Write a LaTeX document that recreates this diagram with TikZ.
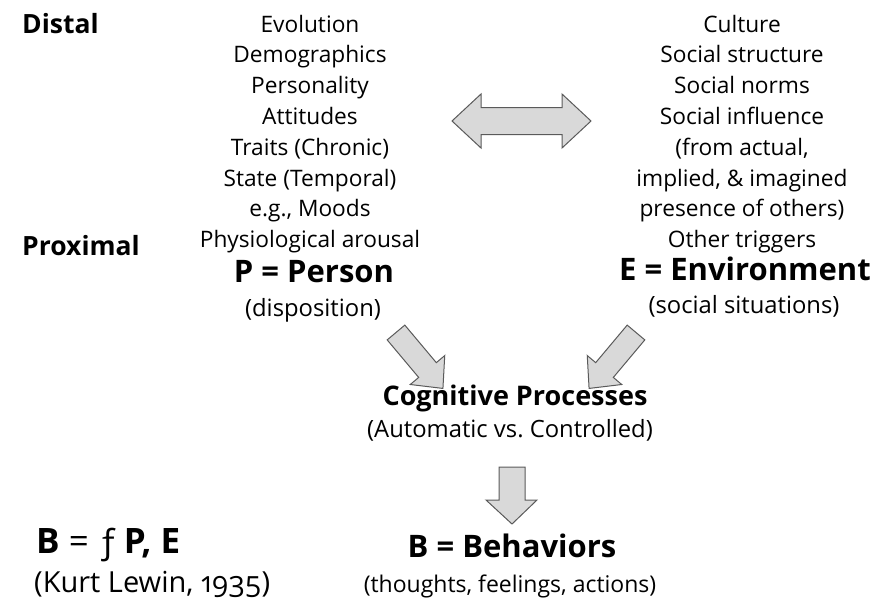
\documentclass[tikz,border=0pt]{standalone}
\usepackage{fontspec}
\setmainfont{Open Sans}
\newfontfamily\oldnum{Open Sans}[Numbers=OldStyle]
\definecolor{arrowfill}{HTML}{D9D9D9}
\definecolor{arrowline}{HTML}{5A5A5A}
\begin{document}
\begin{tikzpicture}[x=1pt,y=-1pt,
  listtxt/.style={anchor=base, inner sep=0pt, font=\fontsize{22.7}{26}\selectfont},
  subtxt/.style={anchor=base, inner sep=0pt, font=\fontsize{23.8}{28}\selectfont},
  headtxt/.style={anchor=base, inner sep=0pt, font=\fontsize{31}{36}\selectfont\bfseries},
  sidetxt/.style={anchor=base west, inner sep=0pt, font=\fontsize{26.5}{30}\selectfont\bfseries},
  blockarrow/.style={fill=arrowfill, draw=arrowline, line width=1pt, line join=miter}]
\useasboundingbox (0,0) rectangle (892,598);

% distal / proximal scale labels
\node[sidetxt] (distal) at (22,33) {Distal};
\node[sidetxt] (proximal) at (22,255) {Proximal};

% person factors
\foreach \t [count=\i from 0] in {Evolution, Demographics, Personality, Attitudes,
    Traits (Chronic), State (Temporal), {e.g., Moods}, Physiological arousal}
  \node[listtxt] (P\i) at (310,{32+30.8*\i}) {\t};

% environment factors
\foreach \t [count=\i from 0] in {Culture, Social structure, Social norms, Social influence,
    {(from actual,}, {implied, \& imagined}, presence of others), Other triggers}
  \node[listtxt] (E\i) at (742,{32+30.8*\i}) {\t};

% main terms
\node[headtxt] (person) at (314,282) {P = Person};
\node[subtxt] (disp) at (313,316) {(disposition)};
\node[headtxt] (env) at (745,280) {E = Environment};
\node[subtxt] (sit) at (744,313) {(social situations)};

\node[headtxt, font=\fontsize{27}{32}\selectfont\bfseries] (cog) at (515,405) {Cognitive Processes};
\node[subtxt] (auto) at (510,437) {(Automatic vs.\ Controlled)};

\node[headtxt] (beh) at (512,557) {B = Behaviors};
\node[subtxt, font=\fontsize{23}{27}\selectfont] (tfa) at (510,592) {(thoughts, feelings, actions)};

% Lewin's equation
\node[anchor=base west, inner sep=0pt, font=\fontsize{35}{40}\selectfont] (eq) at (36,553)
  {\textbf{B} = ƒ\,\textbf{P, E}};
\node[anchor=base west, inner sep=0pt, font=\fontsize{29}{34}\selectfont] (lewin) at (34,592)
  {(Kurt Lewin, {\oldnum 1935})};

% person <-> environment interaction
\draw[blockarrow] (452,121)--(481,94)--(481,107.5)--(562,107.5)--(562,94)--(591,121)
  --(562,148)--(562,134.5)--(481,134.5)--(481,148)--cycle;

% person -> cognitive processes
\begin{scope}[shift={(396,332.5)}, rotate=-50]
  \draw[blockarrow] (0,-11.5)--(49,-11.5)--(49,-22.5)--(73,0)--(49,22.5)--(49,11.5)--(0,11.5)--cycle;
\end{scope}
% environment -> cognitive processes
\begin{scope}[shift={(636,332.5)}, rotate=-130]
  \draw[blockarrow] (0,-11.5)--(49,-11.5)--(49,-22.5)--(73,0)--(49,22.5)--(49,11.5)--(0,11.5)--cycle;
\end{scope}
% cognitive processes -> behaviors
\draw[blockarrow] (499,467)--(525,467)--(525,500)--(537,500)--(512,524)--(486,500)--(499,500)--cycle;
\end{tikzpicture}
\end{document}
